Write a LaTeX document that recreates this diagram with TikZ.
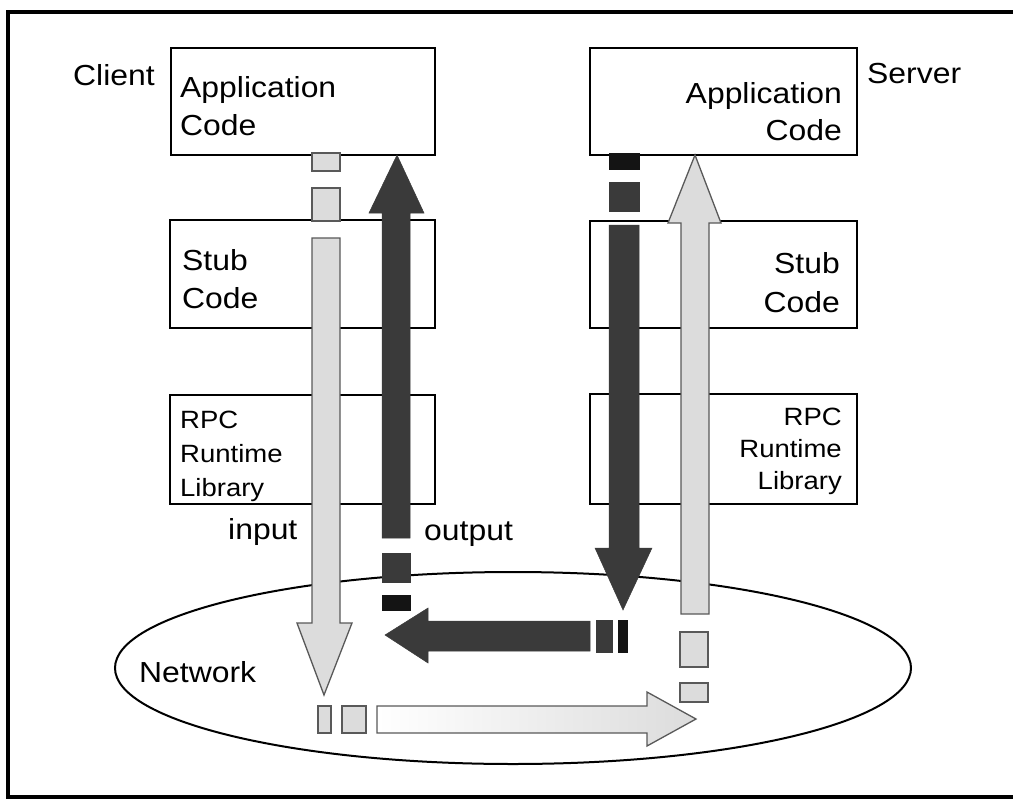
\documentclass[tikz,border=0pt]{standalone}
\usepackage{fontspec}
\usetikzlibrary{shapes.geometric}
\setmainfont{Liberation Sans}[FakeStretch=1.1]
\definecolor{lightg}{HTML}{DCDCDC}
\definecolor{darkg}{HTML}{3A3A3A}
\definecolor{blackg}{HTML}{141414}
\begin{document}
\begin{tikzpicture}[x=1pt,y=-1pt,
  box/.style={draw=black,line width=2pt,fill=white,anchor=north west,inner sep=0pt},
  lbl/.style={inner sep=0pt,font=\fontsize{29}{34}\selectfont},
  small/.style={inner sep=0pt,font=\fontsize{25}{30}\selectfont},
  light/.style={draw=black!65,line width=1.3pt,fill=lightg},
  dark/.style={fill=darkg,draw=darkg,line width=0.5pt},
  blk/.style={fill=blackg,draw=blackg,line width=0.5pt}]
\useasboundingbox (0,0) rectangle (1013,801);
\draw[line width=3.5pt] (1013,12) -- (8,12) -- (8,797) -- (1013,797);

% network ellipse
\node[draw,line width=2pt,ellipse,minimum width=796pt,minimum height=192pt,inner sep=0pt] (net) at (513,668) {};
\node[lbl,anchor=base west] (netlbl) at (139,682) {Network};

% boxes
\node[box,minimum width=264pt,minimum height=107pt] (capp) at (170,47) {};
\node[box,minimum width=267pt,minimum height=107pt] (sapp) at (589,47) {};
\node[box,minimum width=265pt,minimum height=108pt] (cstub) at (169,219) {};
\node[box,minimum width=267pt,minimum height=107pt] (sstub) at (589,220) {};
\node[box,minimum width=265pt,minimum height=109pt] (crpc) at (169,394) {};
\node[box,minimum width=267pt,minimum height=110pt] (srpc) at (589,393) {};

% texts
\node[lbl,anchor=base west] (clientlbl) at (73,85) {Client};
\node[lbl,anchor=base west] (capp1) at (180,97) {Application};
\node[lbl,anchor=base west] (capp2) at (180,135) {Code};
\node[lbl,anchor=base west] (serverlbl) at (867,83) {Server};
\node[lbl,anchor=base east] (sapp1) at (842,103) {Application};
\node[lbl,anchor=base east] (sapp2) at (842,140) {Code};
\node[lbl,anchor=base west] (cstub1) at (182,270) {Stub};
\node[lbl,anchor=base west] (cstub2) at (182,308) {Code};
\node[lbl,anchor=base east] (sstub1) at (840,273) {Stub};
\node[lbl,anchor=base east] (sstub2) at (840,312) {Code};
\node[small,anchor=base west] (crpc1) at (180,428) {RPC};
\node[small,anchor=base west] (crpc2) at (180,462) {Runtime};
\node[small,anchor=base west] (crpc3) at (180,496) {Library};
\node[small,anchor=base east] (srpc1) at (842,425) {RPC};
\node[small,anchor=base east] (srpc2) at (842,457) {Runtime};
\node[small,anchor=base east] (srpc3) at (842,489) {Library};
\node[lbl,anchor=base west] (inlbl) at (228,539) {input};
\node[lbl,anchor=base west] (outlbl) at (424,540) {output};

% client input arrow (light, down)
\draw[light] (312,153) rectangle (340,171);
\draw[light] (312,188) rectangle (340,221);
\draw[light] (312,238) -- (312,623) -- (297,623) -- (324,695) -- (352,623) -- (340,623) -- (340,238) -- cycle;

% client output arrow (dark, up)
\draw[blk] (382,595) rectangle (410,610);
\draw[dark] (382,553) rectangle (410,582);
\draw[dark] (382,538) -- (382,213) -- (369,213) -- (397,155) -- (424,213) -- (410,213) -- (410,538) -- cycle;

% server dark arrow (down)
\draw[blk] (609,153) rectangle (639,169);
\draw[dark] (609,182) rectangle (639,211);
\draw[dark] (609,225) -- (609,548) -- (595,548) -- (623,610) -- (652,548) -- (639,548) -- (639,225) -- cycle;

% server light arrow (up)
\draw[light] (681,614) -- (681,223) -- (668,223) -- (695,155) -- (721,223) -- (709,223) -- (709,614) -- cycle;
\draw[light] (680,632) rectangle (708,667);
\draw[light] (680,683) rectangle (708,702);

% network dark arrow (left)
\draw[dark] (590,621) -- (428,621) -- (428,608) -- (385,635) -- (428,663) -- (428,651) -- (590,651) -- cycle;
\draw[dark] (596,620) rectangle (612,652);
\draw[blk] (618,620) rectangle (627,652);

% network light arrow (right)
\draw[light] (318,706) rectangle (331,733);
\draw[light] (342,706) rectangle (366,733);
\draw[draw=black!65,line width=1.3pt,left color=white,right color=lightg] (377,706) -- (647,706) -- (647,692) -- (696,719) -- (647,746) -- (647,733) -- (377,733) -- cycle;
\end{tikzpicture}
\end{document}
